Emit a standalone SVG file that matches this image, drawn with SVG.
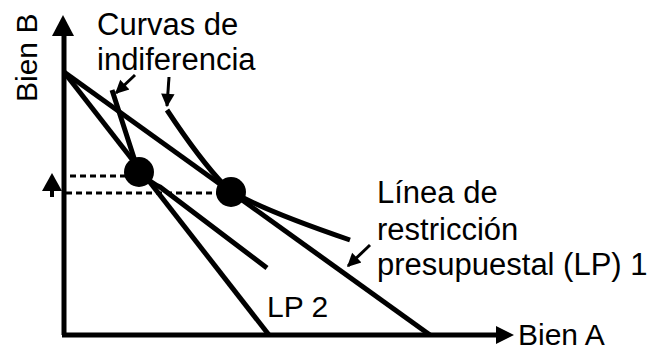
<svg xmlns="http://www.w3.org/2000/svg" width="656" height="350" viewBox="0 0 656 350">
<style>
.t{font-family:"Liberation Sans",Arial,sans-serif;font-size:31px;fill:#000}
.a{font-size:30px}
.ln{stroke:#000;stroke-width:5;fill:none}
.ax{stroke:#000;stroke-width:5;fill:none}
.dot{stroke:#000;stroke-width:3;stroke-dasharray:6 4;fill:none}
.ann{stroke:#000;stroke-width:3;fill:none;marker-end:url(#ah)}
</style>
<defs>
<marker id="ah" viewBox="0 0 10 10" refX="9" refY="5" markerWidth="5" markerHeight="4.5" orient="auto" markerUnits="strokeWidth">
<path d="M0,0 L10,5 L0,10 z" fill="#000"/>
</marker>
</defs>
<g id="axes">
<line class="ax" x1="64" y1="30" x2="64" y2="335"/>
<line class="ax" x1="62" y1="335" x2="500" y2="335"/>
<polygon points="63,15 52,36 74,36" fill="#000"/>
<polygon points="514,335 496,326 496,344" fill="#000"/>
<text class="t a" transform="translate(37,102) rotate(-90)">Bien B</text>
<text class="t a" x="518" y="345">Bien A</text>
</g>
<g id="budget-lines">
<line class="ln" x1="64" y1="72" x2="430" y2="335"/>
<line class="ln" x1="64" y1="72" x2="269" y2="335"/>
<text class="t a" x="267" y="317">LP 2</text>
</g>
<g id="indifference-curves">
<path class="ln" d="M112,90 L134,158 Q141,178 160,187 L267,268"/>
<path class="ln" d="M167,110 Q200,160 225,186 Q245,204 350,240"/>
</g>
<g id="optimum-points">
<circle cx="139" cy="172" r="15" fill="#000"/>
<circle cx="231" cy="192" r="15" fill="#000"/>
</g>
<g id="connectors">
<line class="dot" x1="70" y1="176" x2="126" y2="176"/>
<line class="dot" x1="66" y1="193" x2="218" y2="193"/>
<polygon points="52,173 42,191 62,191" fill="#000"/>
<line x1="52" y1="190" x2="52" y2="197" stroke="#000" stroke-width="4"/>
<line class="ann" x1="135" y1="75" x2="116" y2="93"/>
<line class="ann" x1="169" y1="77" x2="167" y2="106"/>
<line class="ann" x1="370" y1="245" x2="348" y2="266"/>
</g>
<g id="labels">
<text class="t" x="97" y="35">Curvas de</text>
<text class="t" x="97" y="70">indiferencia</text>
<text class="t" x="377" y="203">Línea de</text>
<text class="t" x="377" y="240">restricción</text>
<text class="t" x="377" y="275">presupuestal (LP) 1</text>
</g>
</svg>
